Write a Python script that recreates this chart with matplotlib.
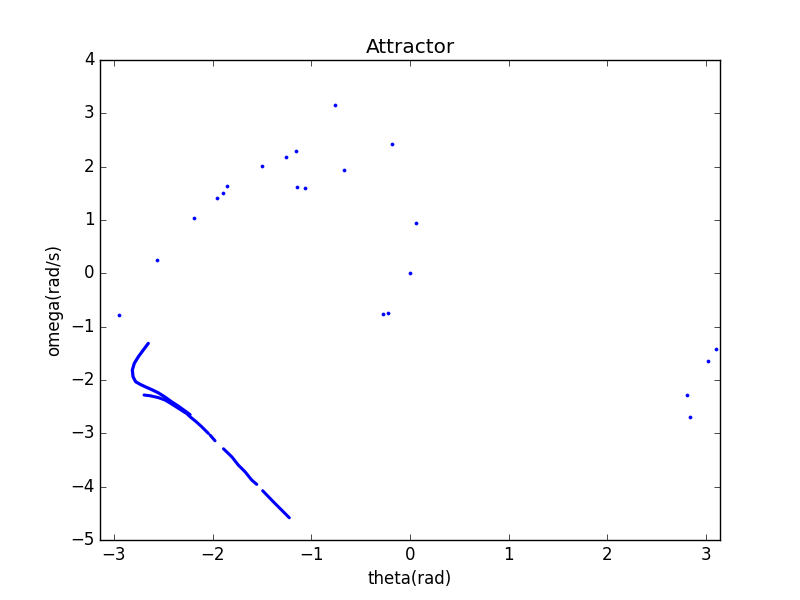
import numpy as np
import matplotlib
matplotlib.use("Agg")
import matplotlib.pyplot as plt

plt.style.use("classic")

# Scattered (transient) points
theta_pts = [-2.946, -2.561, -2.189, -1.953, -1.892, -1.851, -1.497, -1.260,
             -1.158, -1.142, -1.061, -0.763, -0.669, -0.182, 0.058, -0.003,
             -0.271, -0.223, 3.104, 3.020, 2.804, 2.841]
omega_pts = [-0.788, 0.255, 1.031, 1.406, 1.506, 1.643, 2.018, 2.181,
             2.293, 1.613, 1.599, 3.156, 1.943, 2.430, 0.943, 0.006,
             -0.769, -0.744, -1.425, -1.650, -2.288, -2.700]

# Upper branch of the attractor curve
theta_upper = [-2.652, -2.703, -2.753, -2.794, -2.814, -2.807, -2.780, -2.736,
               -2.685, -2.618, -2.551, -2.483, -2.415, -2.348, -2.280, -2.229]
omega_upper = [-1.313, -1.438, -1.564, -1.688, -1.813, -1.939, -2.033, -2.080,
               -2.125, -2.180, -2.240, -2.320, -2.410, -2.490, -2.580, -2.650]

# Lower branch
theta_lower = [-2.695, -2.635, -2.551, -2.483, -2.415, -2.348, -2.280]
omega_lower = [-2.282, -2.295, -2.330, -2.375, -2.450, -2.530, -2.610]

# Diagonal tail (NaN = visible gap)
theta_tail = [-2.280, -2.229, -2.169, -2.111, -2.044, np.nan, -2.025, -1.976,
              np.nan, -1.890, -1.804, -1.740, -1.672, -1.604, -1.553, np.nan,
              -1.493, -1.385, -1.284, -1.223]
omega_tail = [-2.600, -2.689, -2.779, -2.876, -3.000, np.nan, -3.035, -3.139,
              np.nan, -3.290, -3.444, -3.595, -3.720, -3.876, -3.957, np.nan,
              -4.076, -4.283, -4.470, -4.583]

fig = plt.figure(figsize=(8, 6), dpi=100, facecolor="white")
ax = fig.add_subplot(111)
ax.set_facecolor("white")

ax.plot(theta_upper, omega_upper, color="b", lw=2.3, solid_capstyle="round")
ax.plot(theta_lower, omega_lower, color="b", lw=2.2, solid_capstyle="round")
ax.plot(theta_tail, omega_tail, color="b", lw=2.2, solid_capstyle="round")
ax.plot(theta_pts, omega_pts, linestyle="none", marker="o", markersize=2.2,
        color="b", markeredgecolor="b")

ax.set_xlim(-np.pi, np.pi)
ax.set_ylim(-5, 4)
ax.set_xticks([-3, -2, -1, 0, 1, 2, 3])
ax.set_yticks([-5, -4, -3, -2, -1, 0, 1, 2, 3, 4])
ax.set_title("Attractor")
ax.set_xlabel("theta(rad)")
ax.set_ylabel("omega(rad/s)")

fig.savefig("out.png", dpi=100, facecolor="white")
